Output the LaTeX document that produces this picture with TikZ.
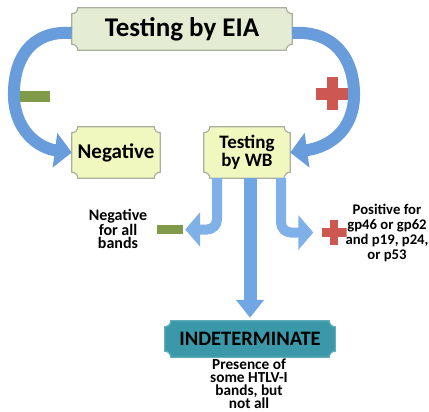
\documentclass[tikz,border=0pt]{standalone}
\usepackage{fontspec}
\setmainfont{Carlito}
\usetikzlibrary{arrows.meta,backgrounds,calc}

\definecolor{eiafill}{RGB}{228,236,212}
\definecolor{wbfill}{RGB}{240,248,192}
\definecolor{boxline}{RGB}{172,174,158}
\definecolor{indetfill}{RGB}{58,152,168}
\definecolor{indetline}{RGB}{96,172,186}
\definecolor{curveblue}{RGB}{104,156,218}
\definecolor{bentblue}{RGB}{128,176,232}
\definecolor{mainblue}{RGB}{112,166,228}
\definecolor{minusgreen}{RGB}{127,154,72}
\definecolor{plusred}{RGB}{205,88,82}

% box with hollowed corners, drawn behind a named node
\newcommand{\plaque}[3]{%
  \filldraw[fill=#2, draw=#3, line width=1.2pt]
    ([xshift=6pt]#1.north west) -- ([xshift=-6pt]#1.north east)
    arc[start angle=180, end angle=270, radius=6pt] -- ([yshift=6pt]#1.south east)
    arc[start angle=90, end angle=180, radius=6pt] -- ([xshift=6pt]#1.south west)
    arc[start angle=0, end angle=90, radius=6pt] -- ([yshift=-6pt]#1.north west)
    arc[start angle=270, end angle=360, radius=6pt] -- cycle;
}

\begin{document}
\begin{tikzpicture}[x=1pt, y=-1pt,
    box/.style={inner sep=0pt, align=center, font=\bfseries},
    note/.style={inner sep=0pt, align=center, font=\bfseries},
    minus/.style={fill=minusgreen, inner sep=0pt},
    plus/.style={inner sep=0pt, minimum size=#1, path picture={
        \fill[plusred] ([yshift=-0.17*#1]path picture bounding box.west) rectangle ([yshift=0.17*#1]path picture bounding box.east);
        \fill[plusred] ([xshift=-0.17*#1]path picture bounding box.south) rectangle ([xshift=0.17*#1]path picture bounding box.north);}},
    curvearrow/.style={draw=curveblue, line width=12pt, -{Triangle[length=17pt, width=34pt]}},
    bentarrow/.style={draw=bentblue, line width=10pt, rounded corners=10pt, -{Triangle[length=15pt, width=34pt]}},
    mainarrow/.style={draw=mainblue, line width=13pt, -{Triangle[length=18pt, width=27pt]}}
  ]
  \useasboundingbox (0,0) rectangle (429,412);

  % Boxes
  \node[box, minimum width=220pt, minimum height=42pt, font=\bfseries\fontsize{27}{30}\selectfont] (eia) at (182,29) {Testing by EIA};
  \node[box, minimum width=88pt, minimum height=51pt, font=\bfseries\fontsize{21}{24}\selectfont] (neg) at (116,152.5) {Negative};
  \node[box, minimum width=86pt, minimum height=51pt, font=\bfseries\fontsize{19}{18}\selectfont] (wb) at (247,152.5) {Testing\\by WB};
  \node[box, minimum width=170pt, minimum height=36pt, font=\bfseries\fontsize{20.5}{24}\selectfont] (indet) at (250,339) {INDETERMINATE};

  \begin{scope}[on background layer]
    \foreach \n/\f/\d in {eia/eiafill/boxline, neg/wbfill/boxline, wb/wbfill/boxline, indet/indetfill/indetline}
      {\plaque{\n}{\f}{\d}}
  \end{scope}

  % Signs
  \node[minus, minimum width=32pt, minimum height=11pt] (minusA) at (34,96.5) {};
  \node[plus=33pt] (plusA) at (332.5,94) {};
  \node[minus, minimum width=26pt, minimum height=9pt] (minusB) at (170,229.5) {};
  \node[plus=25pt] (plusB) at (334,232.5) {};

  % Outcome texts
  \node[note, font=\bfseries\fontsize{16}{13.5}\selectfont] (negbands) at (118,229) {Negative\\for all\\bands};
  \node[note, font=\bfseries\fontsize{14.7}{15}\selectfont] (posbands) at (387,233) {Positive for\\gp46 or gp62\\and p19, p24,\\or p53};
  \node[note, font=\bfseries\fontsize{15.3}{12.8}\selectfont] (presence) at (249,384) {Presence of\\some HTLV-I\\bands, but\\not all};

  % Arrows
  \draw[curvearrow] ([yshift=-4pt]eia.west) .. controls (30,30) and (13,60) .. (14,97)
    .. controls (15,130) and (38,148) .. (neg.west);
  \draw[curvearrow] ([yshift=-4pt]eia.east) .. controls (335,30) and (355,60) .. (354,97)
    .. controls (353,130) and (330,147) .. (wb.east);
  \draw[bentarrow, shorten >=2pt] ([xshift=-30pt]wb.south) |- (minusB);
  \draw[bentarrow, shorten >=8pt] ([xshift=34pt]wb.south) |- (plusB);
  \draw[mainarrow, shorten >=3pt] (indet.north |- wb.south) -- (indet.north);
\end{tikzpicture}
\end{document}
